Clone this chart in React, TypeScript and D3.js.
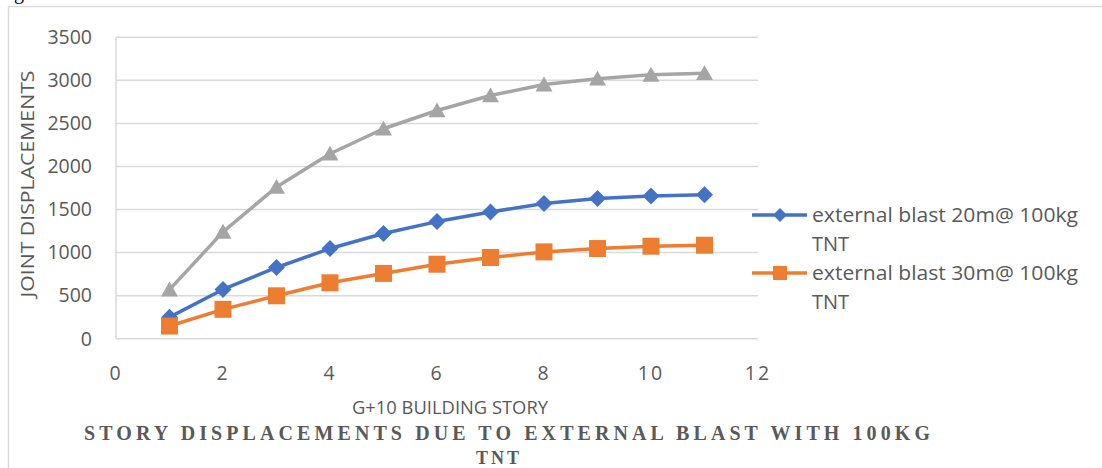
import React from "react";
import * as d3 from "d3";

const stories = [1, 2, 3, 4, 5, 6, 7, 8, 9, 10, 11];
const blast20 = [250, 572, 827, 1047, 1221, 1360, 1472, 1569, 1627, 1657, 1673];
const blast30 = [147, 341, 498, 649, 758, 865, 943, 1008, 1047, 1074, 1086];
const blast10 = [570, 1240, 1762, 2148, 2438, 2650, 2824, 2951, 3018, 3064, 3083];
const xTicks = [0, 2, 4, 6, 8, 10, 12];
const yTicks = [0, 500, 1000, 1500, 2000, 2500, 3000, 3500];
const legendLabels = ["external blast 20m@ 100kg", "external blast 30m@ 100kg"];

const W = 1102;
const H = 468;
const FONT = "'Open Sans', sans-serif";
const SERIF = "'Liberation Serif', 'Times New Roman', serif";
const TXT = "#595959";
const GRID = "#d9d9d9";

export default function App() {
  const x = d3.scaleLinear().domain([0, 12]).range([116, 758]);
  const y = d3.scaleLinear().domain([0, 3500]).range([338.7, 37.3]);
  const line = d3
    .line<number>()
    .x((_, i) => x(stories[i]))
    .y((d) => y(d));

  const diamond = (cx: number, cy: number, r: number) =>
    `M${cx},${cy - r}L${cx + r},${cy}L${cx},${cy + r}L${cx - r},${cy}Z`;
  const square = (cx: number, cy: number, r: number) =>
    `M${cx - r},${cy - r}H${cx + r}V${cy + r}H${cx - r}Z`;
  const tri = (cx: number, cy: number, r: number) =>
    `M${cx},${cy - r * 0.95}L${cx + r},${cy + r * 0.8}L${cx - r},${cy + r * 0.8}Z`;

  const series = [
    { data: blast10, color: "#A5A5A5", shape: tri, r: 8.5 },
    { data: blast20, color: "#4472C4", shape: diamond, r: 8.5 },
    { data: blast30, color: "#ED7D31", shape: square, r: 8.5 },
  ];

  const legend = [
    { label: legendLabels[0], color: "#4472C4", shape: diamond, r: 7, y: 215 },
    { label: legendLabels[1], color: "#ED7D31", shape: square, r: 7, y: 273 },
  ];

  return (
    <svg
      width={W}
      height={H}
      style={{ position: "absolute", left: 0, top: 0, background: "#fff" }}
    >
      <text x={14} y={-1} fontFamily={SERIF} fontSize={20} fill="#000">
        g
      </text>
      <path d={`M8.5,${H + 2}V6.5H${W + 2}`} fill="none" stroke={GRID} strokeWidth={1.5} />

      {yTicks.map((t) => (
        <g key={t}>
          <line x1={x(0)} x2={x(12)} y1={y(t)} y2={y(t)} stroke={GRID} strokeWidth={1.5} />
          <text
            x={92}
            y={y(t)}
            dy="0.35em"
            textAnchor="end"
            fontFamily={FONT}
            fontSize={19.5}
            fill={TXT}
          >
            {t}
          </text>
        </g>
      ))}
      <line x1={x(0)} x2={x(0)} y1={y(3500)} y2={y(0)} stroke={GRID} strokeWidth={1.5} />

      {xTicks.map((t) => (
        <text
          key={t}
          x={x(t)}
          y={373}
          dy="0.35em"
          textAnchor="middle"
          fontFamily={FONT}
          fontSize={19.5}
          fill={TXT}
          letterSpacing={2}
        >
          {t}
        </text>
      ))}

      {series.map((s, k) => (
        <g key={k}>
          <path d={line(s.data) || ""} fill="none" stroke={s.color} strokeWidth={3.5} strokeLinejoin="round" />
          {s.data.map((v, i) => (
            <path key={i} d={s.shape(x(stories[i]), y(v), s.r)} fill={s.color} />
          ))}
        </g>
      ))}

      <text
        transform={`translate(27,${184}) rotate(-90)`}
        textAnchor="middle"
        dy="0.35em"
        fontFamily={FONT}
        fontSize={19}
        fill={TXT}
        textLength={227}
        lengthAdjust="spacingAndGlyphs"
      >
        JOINT DISPLACEMENTS
      </text>

      <text
        x={450}
        y={408}
        dy="0.35em"
        textAnchor="middle"
        fontFamily={FONT}
        fontSize={18.5}
        fill={TXT}
        textLength={196}
        lengthAdjust="spacingAndGlyphs"
      >
        G+10 BUILDING STORY
      </text>

      <text
        x={84}
        y={440}
        fontFamily={SERIF}
        fontWeight="bold"
        fontSize={20}
        fill={TXT}
        textLength={846}
        lengthAdjust="spacing"
      >
        STORY DISPLACEMENTS DUE TO EXTERNAL BLAST WITH 100KG
      </text>
      <text
        x={499}
        y={464}
        textAnchor="middle"
        fontFamily={SERIF}
        fontWeight="bold"
        fontSize={18}
        fill={TXT}
        letterSpacing={3}
      >
        TNT
      </text>

      {legend.map((l, k) => (
        <g key={k}>
          <line x1={752} x2={807} y1={l.y} y2={l.y} stroke={l.color} strokeWidth={3.5} />
          <path d={l.shape(780, l.y, l.r)} fill={l.color} />
          <text
            x={812}
            y={l.y}
            dy="0.35em"
            fontFamily={FONT}
            fontSize={20}
            fill={TXT}
            textLength={266}
            lengthAdjust="spacingAndGlyphs"
          >
            {l.label}
          </text>
          <text x={812} y={l.y + 29} dy="0.35em" fontFamily={FONT} fontSize={20} fill={TXT}>
            TNT
          </text>
        </g>
      ))}
    </svg>
  );
}
